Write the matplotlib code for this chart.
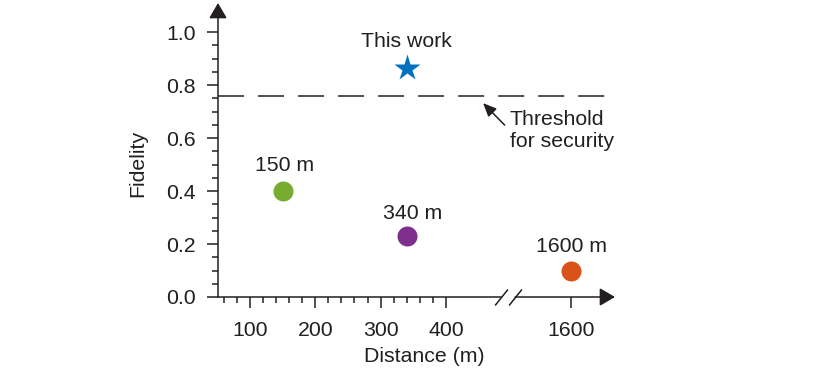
import numpy as np
import matplotlib.pyplot as plt
from matplotlib.patches import ArrowStyle

# datos
distances = [150, 340, 1600]
fidelity = [0.40, 0.232, 0.10]
point_labels = ['150 m', '340 m', '1600 m']
point_colors = ['#77ac30', '#7e2f8e', '#d95319']
this_work_distance = 340
this_work_fidelity = 0.866
threshold = 0.76

x_major = [100, 200, 300, 400, 1600]
x_minor = [v for v in range(60, 400, 20) if v % 100 != 0]
y_major = [0.0, 0.2, 0.4, 0.6, 0.8, 1.0]
y_minor = [round(v * 0.05, 2) for v in range(1, 20) if v % 4 != 0]

# limites y puntos de corte del eje x
x_left, x_right = 51, 1667
y_top = 1.11
break_left, break_right = 484, 1514
offset = 1008

ink = '#231f20'
plt.rcParams['font.family'] = ['Liberation Sans', 'DejaVu Sans']
plt.rcParams['font.size'] = 15.3
plt.rcParams['text.color'] = ink


def forward(x):
    x = np.asarray(x, dtype=float)
    return np.where(x <= 500, x, np.where(x >= 1508, x - offset, 500))


def inverse(u):
    u = np.asarray(u, dtype=float)
    return np.where(u <= 500, u, u + offset)


fig = plt.figure(figsize=(8.29, 3.8), dpi=100)
ax = fig.add_axes([218 / 829, 1 - 297 / 380, 397 / 829, 294 / 380])
ax.set_xscale('function', functions=(forward, inverse))
ax.set_xlim(x_left, x_right)
ax.set_ylim(0, y_top)

for s in ax.spines.values():
    s.set_visible(False)

# ejes con flecha
lw = 1.1
head = ArrowStyle('-|>', head_length=0.94, head_width=0.55)
ax.annotate('', xy=(x_left, y_top), xytext=(x_left, 0),
            arrowprops=dict(arrowstyle=head, color=ink, lw=lw, shrinkA=0, shrinkB=0,
                            mutation_scale=10), annotation_clip=False)
ax.plot([x_left, break_left], [0, 0], color=ink, lw=lw, clip_on=False,
        solid_capstyle='projecting')
ax.annotate('', xy=(x_right, 0), xytext=(break_right, 0),
            arrowprops=dict(arrowstyle=head, color=ink, lw=lw, shrinkA=0, shrinkB=0,
                            mutation_scale=10), annotation_clip=False)
ax.plot([break_left, break_right], [0, 0], ls='none', marker=[(-0.8, -1), (0.8, 1)],
        ms=11.5, mew=lw, color=ink, clip_on=False)

ax.set_xticks(x_major)
ax.set_xticks(x_minor, minor=True)
ax.set_yticks(y_major)
ax.set_yticks(y_minor, minor=True)
ax.set_yticklabels([f'{v:.1f}' for v in y_major])
ax.tick_params(which='major', length=8, width=lw, color=ink, labelcolor=ink, direction='out')
ax.tick_params(which='minor', length=4.5, width=lw, color=ink, direction='out')
ax.tick_params(axis='x', which='major', pad=9)
ax.tick_params(axis='y', which='major', pad=8)

# umbral de seguridad
ax.plot([x_left, 1652], [threshold, threshold], color=ink, lw=1.1, dashes=(17, 9.2),
        clip_on=False)
ax.annotate('', xy=(457, 0.732), xytext=(490, 0.649),
            arrowprops=dict(arrowstyle=ArrowStyle('-|>', head_length=0.8, head_width=0.35),
                            color=ink, lw=1.1, shrinkA=0, shrinkB=0, mutation_scale=10))
ax.text(498, 0.705, 'Threshold\nfor security', ha='left', va='top', linespacing=1.2)

# puntos
label_offsets = [(1.4, 14.4), (4.3, 12), (0, 13)]
for d, f, lab, c, off in zip(distances, fidelity, point_labels, point_colors, label_offsets):
    ax.plot(d, f, 'o', ms=14.4, color=c, mec='none', clip_on=False)
    ax.annotate(lab, (d, f), xytext=off, textcoords='offset points',
                ha='center', va='baseline')

ax.plot(this_work_distance, this_work_fidelity, '*', ms=20, color='#0072bd', mec='none')
ax.annotate('This work', (this_work_distance, this_work_fidelity), xytext=(0, 15),
            textcoords='offset points', ha='center', va='baseline')

fig.text(424 / 829, 1 - 356 / 380, 'Distance (m)', ha='center', va='center')
fig.text(138 / 829, 1 - 163 / 380, 'Fidelity', ha='center', va='center', rotation=90)

fig.savefig('out.png', dpi=100, facecolor='white')
